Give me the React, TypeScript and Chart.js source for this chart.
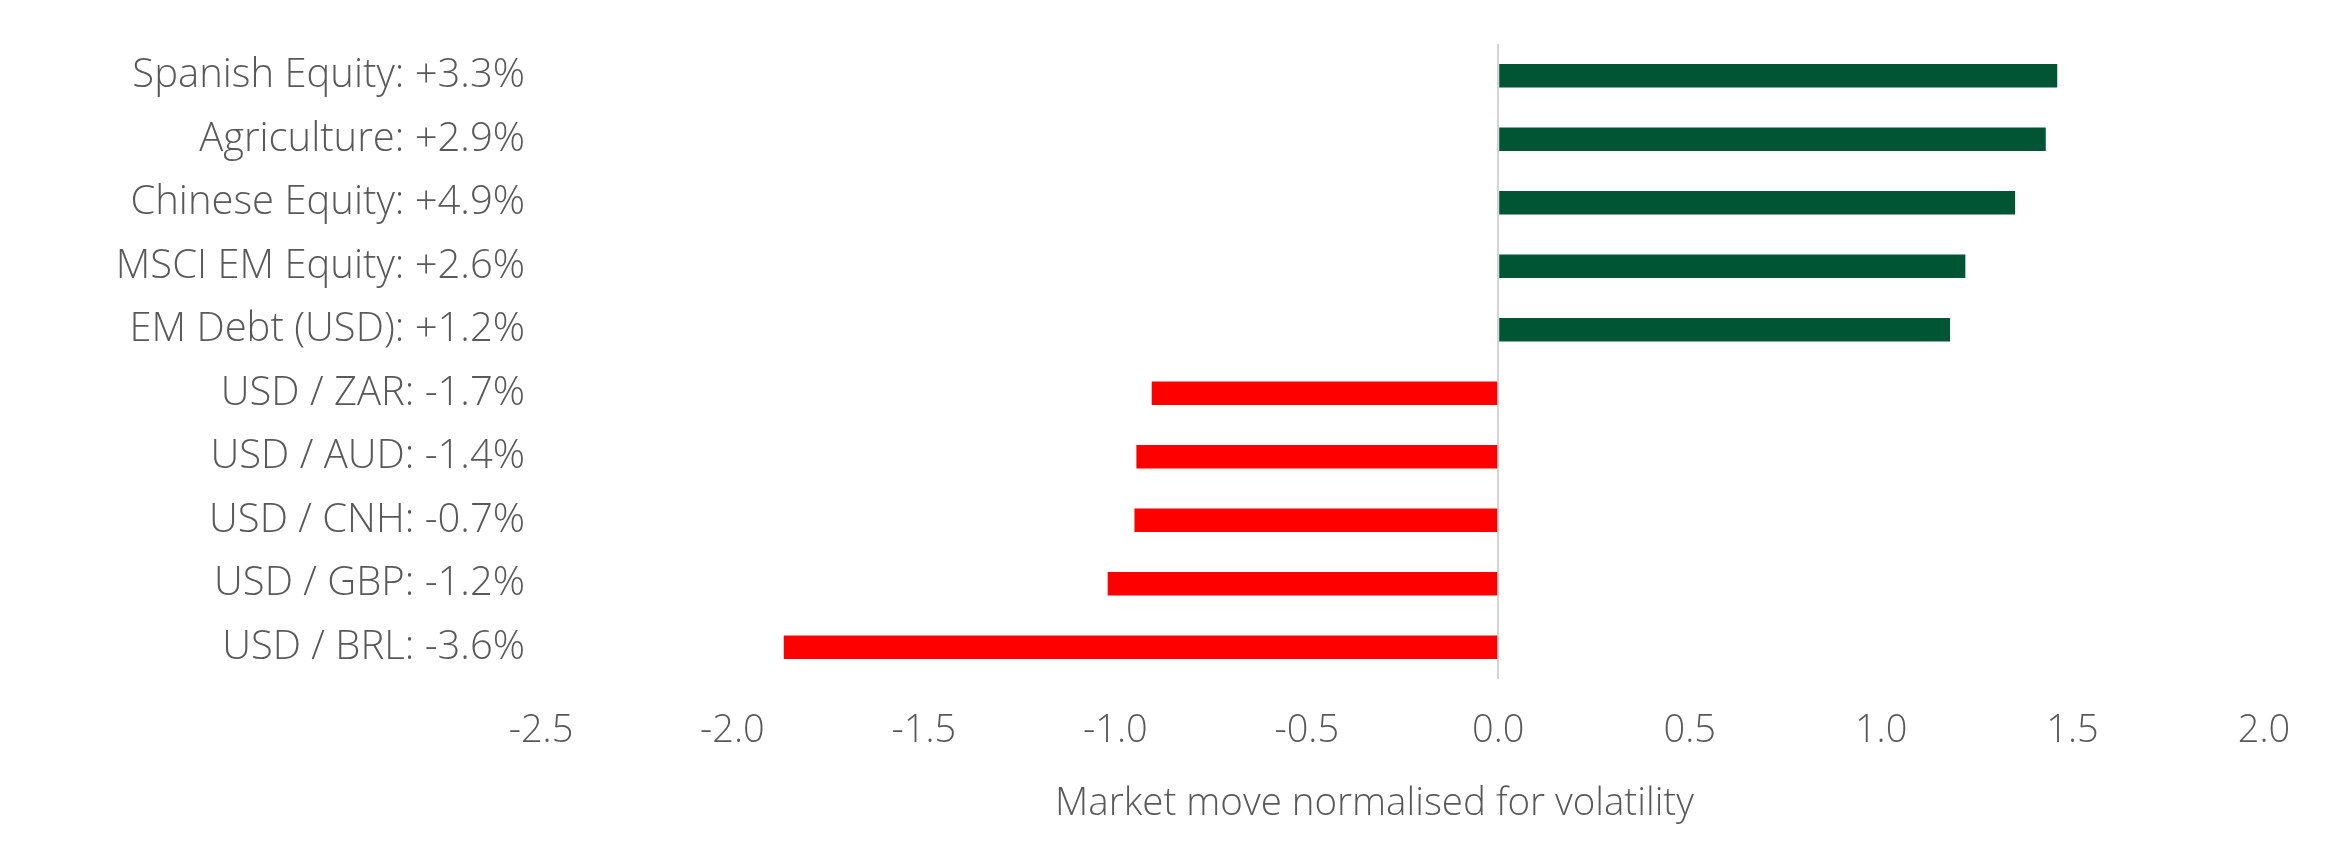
import React, { useEffect, useRef } from "react";
import { Chart, registerables } from "chart.js";

Chart.register(...registerables);

const categories: string[] = [
  "Spanish Equity: +3.3%",
  "Agriculture: +2.9%",
  "Chinese Equity: +4.9%",
  "MSCI EM Equity: +2.6%",
  "EM Debt (USD): +1.2%",
  "USD / ZAR: -1.7%",
  "USD / AUD: -1.4%",
  "USD / CNH: -0.7%",
  "USD / GBP: -1.2%",
  "USD / BRL: -3.6%",
];

const values: number[] = [1.46, 1.43, 1.35, 1.22, 1.18, -0.905, -0.945, -0.95, -1.02, -1.866];

const xMin = -2.5;
const xMax = 2.0;
const xStep = 0.5;
const axisTitle = "Market move normalised for volatility";

const GREEN = "#005534";
const RED = "#ff0000";
const TEXT = "#595959";
const FONT = "'Open Sans', 'Noto Sans', sans-serif";

const axisTitlePlugin = {
  id: "axisTitleShifted",
  afterDraw(chart: any) {
    const { ctx, chartArea } = chart;
    ctx.save();
    ctx.font = `300 38.5px ${FONT}`;
    ctx.fillStyle = TEXT;
    ctx.textAlign = "center";
    ctx.textBaseline = "middle";
    const cx = (chartArea.left + chartArea.right) / 2 - 28;
    ctx.fillText(axisTitle, cx, chartArea.bottom + 125);
    ctx.restore();
  },
};

export default function App() {
  const ref = useRef<HTMLCanvasElement | null>(null);

  useEffect(() => {
    if (!ref.current) return;
    const chart = new Chart(ref.current, {
      type: "bar",
      data: {
        labels: categories,
        datasets: [
          {
            data: values,
            backgroundColor: values.map((v) => (v >= 0 ? GREEN : RED)),
            barPercentage: 0.37,
            categoryPercentage: 1,
            borderWidth: 0,
          },
        ],
      },
      options: {
        indexAxis: "y",
        animation: false,
        responsive: false,
        maintainAspectRatio: false,
        layout: { padding: { top: 44, right: 75, bottom: 0, left: 0 } },
        plugins: { legend: { display: false }, tooltip: { enabled: false } },
        scales: {
          x: {
            type: "linear",
            min: xMin,
            max: xMax,
            ticks: {
              stepSize: xStep,
              padding: 29,
              color: TEXT,
              font: { family: FONT, size: 38, weight: "300" },
              callback: (v: any) => Number(v).toFixed(1),
            },
            grid: {
              drawTicks: false,
              lineWidth: 2,
              color: (ctx: any) => (ctx.tick && ctx.tick.value === 0 ? "#d4d4d4" : "rgba(0,0,0,0)"),
            },
            border: { display: false },
            title: { display: false, text: axisTitle },
            afterFit: (scale: any) => {
              scale.height = 179;
            },
          },
          y: {
            type: "category",
            ticks: {
              padding: 16,
              color: TEXT,
              font: { family: FONT, size: 40, weight: "300" },
            },
            grid: { display: false, drawTicks: false },
            border: { display: false },
            afterFit: (scale: any) => {
              scale.width = 541;
            },
          },
        },
      },
      plugins: [axisTitlePlugin],
    } as any);
    return () => chart.destroy();
  }, []);

  return (
    <div style={{ position: "fixed", left: 0, top: 0, width: 2339, height: 858, background: "#fff" }}>
      <canvas ref={ref} width={2339} height={858} style={{ width: 2339, height: 858, display: "block" }} />
    </div>
  );
}
